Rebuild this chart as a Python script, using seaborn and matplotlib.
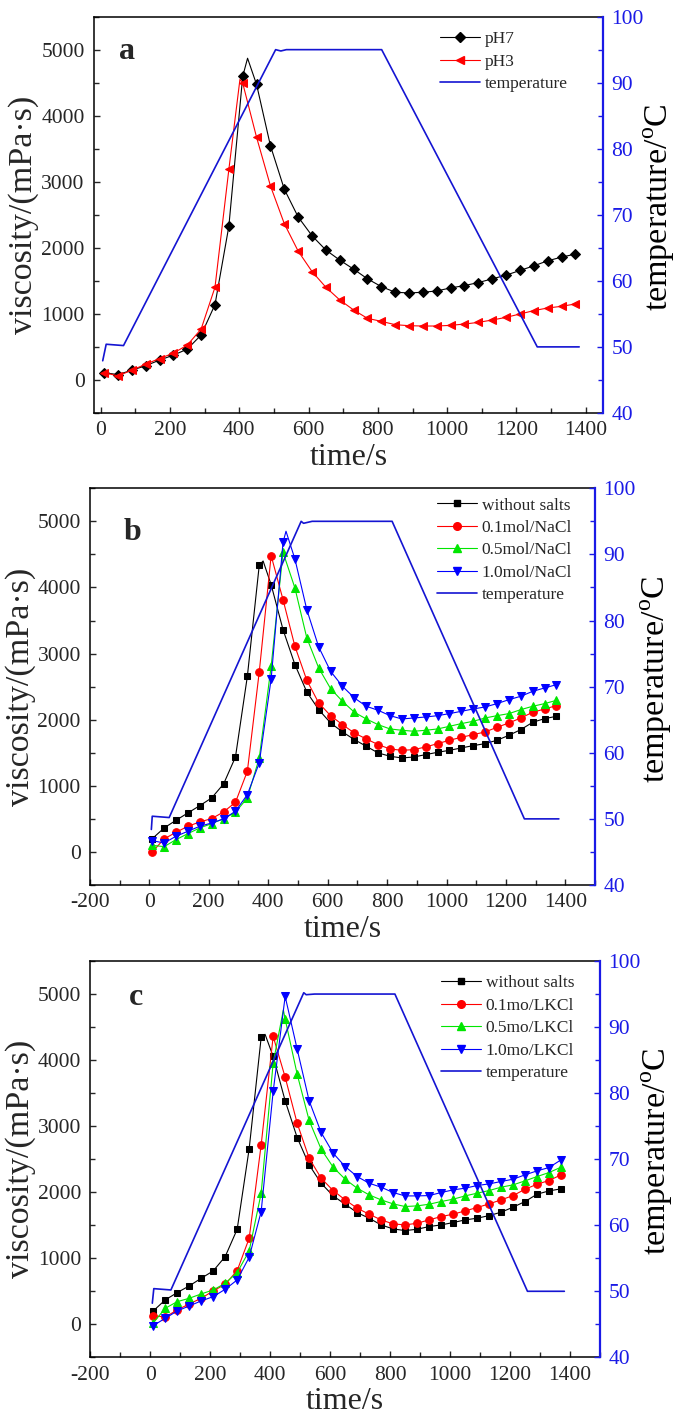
import numpy as np
import pandas as pd
import seaborn as sns
import matplotlib.pyplot as plt
from matplotlib.ticker import MultipleLocator
from matplotlib.lines import Line2D

sns.set_style("ticks")
plt.rcParams['font.family'] = ['Liberation Serif', 'DejaVu Serif']
plt.rcParams['mathtext.fontset'] = 'custom'
plt.rcParams['mathtext.rm'] = 'Liberation Serif'
plt.rcParams['axes.unicode_minus'] = False

# sampling times of the marked points (s)
time_s = [10, 50, 90, 130, 170, 210, 250, 290, 330, 370, 410, 450, 490, 530,
          570, 610, 650, 690, 730, 770, 810, 850, 890, 930, 970, 1010, 1050,
          1090, 1130, 1170, 1210, 1250, 1290, 1330, 1370]

# panel a - viscosity (mPa.s)
ph7 = [110, 80, 147, 215, 300, 375, 466, 680, 1140, 2325, 4595, 4473, 3546,
       2888, 2467, 2183, 1966, 1814, 1677, 1530, 1413, 1327, 1317, 1327, 1347,
       1393, 1428, 1474, 1530, 1586, 1657, 1727, 1803, 1859, 1905]
ph3 = [110, 61, 147, 238, 324, 405, 527, 770, 1403, 3186, 4493, 3673, 2938,
       2366, 1950, 1641, 1403, 1211, 1059, 932, 887, 836, 821, 816, 816, 826,
       846, 871, 907, 947, 998, 1049, 1089, 1114, 1150]
ph7_peak = [(424, 4870)]
ph3_peak = [(402, 4550)]

# panel b - NaCl
b_none = [200, 363, 479, 590, 700, 817, 1028, 1436, 2656, 4335, 4042, 3362,
          2833, 2419, 2152, 1951, 1815, 1699, 1598, 1497, 1447, 1421, 1436,
          1472, 1507, 1537, 1573, 1608, 1638, 1689, 1764, 1850, 1961, 2016, 2051]
b_01 = [0, 197, 297, 388, 454, 504, 605, 751, 1220, 2722, 4481, 3815, 3110,
        2596, 2253, 2061, 1925, 1799, 1709, 1623, 1557, 1537, 1547, 1588, 1638,
        1689, 1734, 1774, 1815, 1885, 1951, 2026, 2112, 2162, 2213]
b_05 = [100, 80, 186, 277, 363, 428, 504, 600, 817, 1421, 2807, 4531, 3992,
        3236, 2782, 2470, 2278, 2112, 2011, 1925, 1860, 1840, 1825, 1840, 1860,
        1900, 1941, 1976, 2026, 2061, 2092, 2152, 2203, 2243, 2293]
b_10 = [170, 136, 237, 313, 388, 438, 499, 615, 867, 1346, 2616, 4682, 4430,
        3664, 3100, 2732, 2505, 2329, 2203, 2142, 2061, 2011, 2026, 2041, 2061,
        2092, 2127, 2162, 2193, 2243, 2303, 2354, 2429, 2480, 2530]
b_none_peak = [(383, 4400)]
b_10_peak = [(460, 4850)]

# panel c - KCl
c_none = [202, 369, 480, 581, 697, 808, 1025, 1439, 2657, 4343, 4056, 3384,
          2828, 2414, 2136, 1944, 1818, 1692, 1606, 1505, 1444, 1419, 1439,
          1480, 1505, 1540, 1581, 1606, 1646, 1697, 1773, 1859, 1970, 2020, 2051]
c_01 = [131, 110, 217, 308, 394, 505, 606, 813, 1303, 2717, 4359, 3742, 3045,
        2515, 2212, 2025, 1884, 1758, 1667, 1581, 1520, 1505, 1530, 1581, 1631,
        1667, 1717, 1768, 1823, 1884, 1949, 2045, 2121, 2177, 2263]
c_05 = [20, 242, 343, 394, 460, 520, 621, 783, 1111, 1985, 3955, 4621, 3788,
        3086, 2652, 2379, 2197, 2061, 1960, 1884, 1823, 1783, 1793, 1818, 1859,
        1894, 1944, 1985, 2025, 2076, 2111, 2172, 2237, 2298, 2379]
c_10 = [-20, 91, 202, 278, 354, 419, 530, 672, 1015, 1707, 3525, 4965, 4167,
        3384, 2904, 2591, 2389, 2237, 2136, 2076, 1995, 1944, 1944, 1949, 1995,
        2035, 2061, 2101, 2126, 2162, 2197, 2263, 2323, 2374, 2490]
c_none_peak = [(383, 4390)]
c_05_peak = [(444, 4760)]

# temperature programmes (time s, temperature C)
temp_a_t = [6, 16, 66, 505, 520, 536, 811, 1260, 1381]
temp_a_v = [47.9, 50.4, 50.2, 95.0, 94.8, 95.0, 95.0, 50.0, 50.0]
temp_b_t = [7, 10, 67, 511, 519, 548, 817, 1262, 1378]
temp_b_v = [48.4, 50.4, 50.2, 95.0, 94.7, 95.0, 95.0, 50.0, 50.0]
temp_c_t = [7, 12, 69, 512, 520, 548, 816, 1258, 1381]
temp_c_v = [48.2, 50.4, 50.2, 95.2, 94.9, 95.0, 95.0, 50.0, 50.0]

labels_a = ["pH7", "pH3", "temperature"]
labels_b = ["without salts", "0.1mol/NaCl", "0.5mol/NaCl", "1.0mol/NaCl", "temperature"]
labels_c = ["without salts", "0.1mo/LKCl", "0.5mo/LKCl", "1.0mo/LKCl", "temperature"]

BLUE_T = '#1414d2'
BLUE_AX = '#1a1ae6'
GREEN = '#00e600'


def draw_series(ax, vals, peaks, color, marker, ms):
    pts = list(zip(time_s, vals)) + list(peaks)
    df = pd.DataFrame(pts, columns=['t', 'v']).sort_values('t').reset_index(drop=True)
    marks = [i for i, t in enumerate(df['t']) if t in time_s]
    sns.lineplot(data=df, x='t', y='v', ax=ax, color=color, lw=0.8,
                 marker=marker, markersize=ms, markevery=marks,
                 markeredgecolor=color, markerfacecolor=color,
                 errorbar=None, legend=False)
    return Line2D([], [], color=color, lw=0.8, marker=marker, markersize=ms,
                  markeredgecolor=color, markerfacecolor=color)


def setup_panel(fig, rect, xlim, letter, letter_pos, ylab_x, tlab_x):
    ax = fig.add_axes(rect)
    ax2 = ax.twinx()
    ax.set_xlim(*xlim)
    ax.set_ylim(-500, 5500)
    ax2.set_ylim(40, 100)
    ax.xaxis.set_major_locator(MultipleLocator(200))
    ax.xaxis.set_minor_locator(MultipleLocator(100))
    ax.yaxis.set_major_locator(MultipleLocator(1000))
    ax.yaxis.set_minor_locator(MultipleLocator(500))
    ax2.yaxis.set_major_locator(MultipleLocator(10))
    ax2.yaxis.set_minor_locator(MultipleLocator(5))
    ax.tick_params(which='both', direction='in', labelsize=15.5, width=1.0,
                   top=False, right=False)
    ax.tick_params(which='major', length=4.5)
    ax.tick_params(which='minor', length=3.5)
    ax.tick_params(axis='y', pad=6.5)
    ax.tick_params(axis='x', pad=6)
    ax2.tick_params(which='both', direction='in', labelsize=15.5, width=1.0,
                    colors=BLUE_AX, pad=6)
    ax2.tick_params(which='major', length=4.5)
    ax2.tick_params(which='minor', length=3.5)
    for s in ['left', 'bottom', 'top']:
        ax.spines[s].set_linewidth(1.1)
        ax.spines[s].set_color('black')
        ax2.spines[s].set_visible(False)
    ax.spines['right'].set_visible(False)
    ax2.spines['right'].set_color(BLUE_AX)
    ax2.spines['right'].set_linewidth(1.6)
    ax.set_xlabel('time/s', fontsize=23, labelpad=2)
    ax.set_ylabel('viscosity/(mPa·s)', fontsize=24.5)
    ax.yaxis.set_label_coords(ylab_x, 0.5)
    ax2.set_ylabel(r'temperature/$^{\rm o}$C', fontsize=24.5, color='black',
                   rotation=90)
    ax2.yaxis.set_label_coords(tlab_x, 0.52)
    ax.text(letter_pos[0], letter_pos[1], letter, transform=ax.transAxes,
            fontsize=23, fontweight='bold', ha='center', va='center')
    return ax, ax2


def add_legend(ax2, handles, labels, anchor):
    ax2.legend(handles, labels, loc='upper left', bbox_to_anchor=anchor,
               frameon=False, fontsize=12.5, handlelength=2.3,
               handletextpad=0.25, labelspacing=0.36, borderpad=0,
               borderaxespad=0)


fig = plt.figure(figsize=(6.81, 14.21), dpi=100)

# ---- panel a
ax, ax2 = setup_panel(fig, [0.1376, 0.7094, 0.748, 0.2789], (-20, 1450), 'a',
                      (0.065, 0.912), -0.108, 1.076)
h = [draw_series(ax, ph7, ph7_peak, 'black', 'D', 5.2),
     draw_series(ax, ph3, ph3_peak, '#ff0000', '<', 6)]
sns.lineplot(x=temp_a_t, y=temp_a_v, ax=ax2, color=BLUE_T, lw=1.2, errorbar=None)
h.append(Line2D([], [], color=BLUE_T, lw=1.2))
add_legend(ax2, h, labels_a, (0.68, 0.963))

# ---- panel b
ax, ax2 = setup_panel(fig, [0.1319, 0.3772, 0.742, 0.2792], (-200, 1500), 'b',
                      (0.084, 0.889), -0.106, 1.085)
h = [draw_series(ax, b_none, b_none_peak, 'black', 's', 5),
     draw_series(ax, b_01, [], '#ff0000', 'o', 5.5),
     draw_series(ax, b_05, [], GREEN, '^', 5.5),
     draw_series(ax, b_10, b_10_peak, '#0000ff', 'v', 5.5)]
sns.lineplot(x=temp_b_t, y=temp_b_v, ax=ax2, color=BLUE_T, lw=1.2, errorbar=None)
h.append(Line2D([], [], color=BLUE_T, lw=1.2))
add_legend(ax2, h, labels_b, (0.6876, 0.977))

# ---- panel c
ax, ax2 = setup_panel(fig, [0.1325, 0.0448, 0.7486, 0.2789], (-200, 1500), 'c',
                      (0.089, 0.907), -0.106, 1.078)
h = [draw_series(ax, c_none, c_none_peak, 'black', 's', 5),
     draw_series(ax, c_01, [], '#ff0000', 'o', 5.5),
     draw_series(ax, c_05, c_05_peak, GREEN, '^', 5.5),
     draw_series(ax, c_10, [], '#0000ff', 'v', 5.5)]
sns.lineplot(x=temp_c_t, y=temp_c_v, ax=ax2, color=BLUE_T, lw=1.2, errorbar=None)
h.append(Line2D([], [], color=BLUE_T, lw=1.2))
add_legend(ax2, h, labels_c, (0.689, 0.964))

fig.savefig('out.png', dpi=100)
